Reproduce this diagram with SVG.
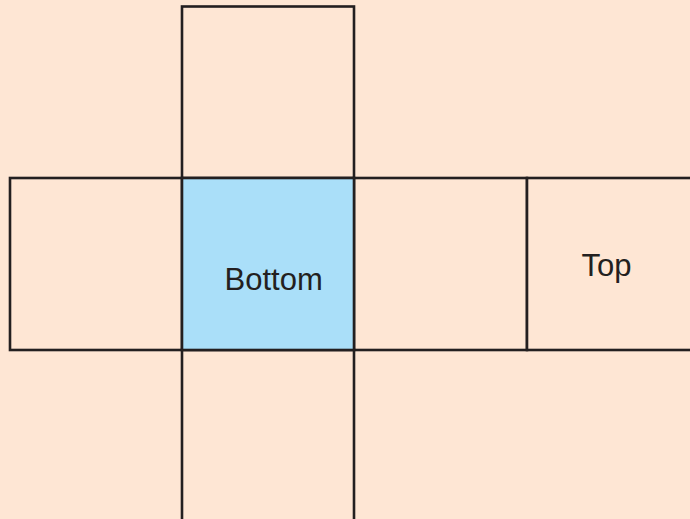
<svg xmlns="http://www.w3.org/2000/svg" width="690" height="519" viewBox="0 0 690 519">
<style>
.face{fill:#fee6d4;stroke:#231f20;stroke-width:2.6}
.blue{fill:#aadff9}
.lbl{font-family:"Liberation Sans",Arial,sans-serif;font-size:31px;fill:#231f20}
</style>
<rect width="690" height="519" fill="#fee6d4"/>
<g id="face-up"><rect class="face" x="182" y="6.5" width="172" height="171.5"/></g>
<g id="face-left"><rect class="face" x="10" y="178" width="172" height="172"/></g>
<g id="face-right"><rect class="face" x="354" y="178" width="173" height="172"/></g>
<g id="face-top"><rect class="face" x="527" y="178" width="173" height="172"/><text class="lbl" x="581.5" y="275.5">Top</text></g>
<g id="face-down"><rect class="face" x="182" y="350" width="172" height="180"/></g>
<g id="face-bottom"><rect class="face blue" x="182" y="178" width="172" height="172"/><text class="lbl" x="224.5" y="289.5">Bottom</text></g>
</svg>
